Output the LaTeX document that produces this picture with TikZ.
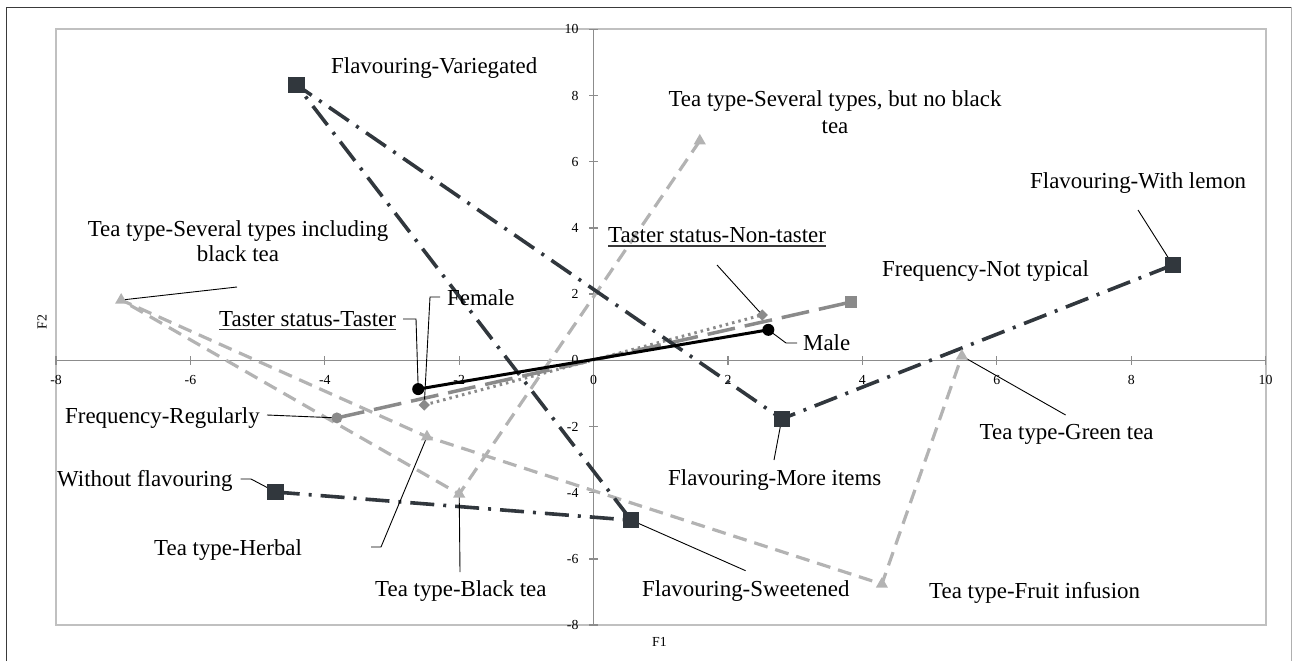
\documentclass[tikz,border=0pt]{standalone}
\usepackage{fontspec}
\setmainfont{Liberation Serif}
\usetikzlibrary{shapes.geometric}
\definecolor{flav}{HTML}{31373D}
\definecolor{teac}{HTML}{B3B3B3}
\definecolor{freqc}{HTML}{8A8A8A}
\definecolor{axisc}{HTML}{8C8C8C}
\definecolor{framec}{HTML}{C0C0C0}
\definecolor{outerc}{HTML}{3A3A3A}
\definecolor{outerr}{HTML}{B0B0B0}
\begin{document}
\begin{tikzpicture}[x=1pt,y=-1pt,
  lbl/.style={font=\fontsize{22.9}{27}\selectfont, inner sep=0pt, anchor=base west},
  lblc/.style={font=\fontsize{22.9}{27}\selectfont, inner sep=0pt, anchor=base},
  ticklbl/.style={font=\fontsize{13.8}{16}\selectfont, inner sep=0pt},
  leader/.style={draw=black, line width=0.9pt},
  ulline/.style={draw=outerc, line width=1.4pt},
  flavline/.style={draw=flav, line width=3.6pt, dash pattern=on 24pt off 9pt on 3pt off 9pt},
  tealine/.style={draw=teac, line width=3.2pt, dash pattern=on 14pt off 8pt},
  freqline/.style={draw=freqc, line width=3.5pt, dash pattern=on 28pt off 10pt},
  tastline/.style={draw=freqc, line width=3pt, dash pattern=on 2.5pt off 4pt},
  gendline/.style={draw=black, line width=3pt},
  sqmark/.style={rectangle, fill=flav, minimum size=16.5pt, inner sep=0pt},
  trimark/.style={regular polygon, regular polygon sides=3, fill=teac, minimum size=14pt, inner sep=0pt},
  freqcirc/.style={circle, fill=freqc, minimum size=11pt, inner sep=0pt},
  freqsq/.style={rectangle, fill=freqc, minimum size=12pt, inner sep=0pt},
  diamark/.style={diamond, aspect=1, fill=freqc, minimum width=11.5pt, minimum height=11.5pt, inner sep=0pt},
  gendmark/.style={circle, fill=black, minimum size=12pt, inner sep=0pt},
  frameln/.style={draw=framec, line width=2pt},
  axisln/.style={draw=axisc, line width=1.3pt}
]
\useasboundingbox (0,0) rectangle (1292,661);
% outer border
\draw[line width=1.8pt, draw=outerc] (6.5,661) -- (6.5,7.5) -- (1292,7.5);
\draw[line width=1pt, draw=outerr] (1291.3,7.5) -- (1291.3,661);

\begin{scope}[shift={(593.6pt,-360.3pt)}, x=67.2pt, y=33.1pt]
  % frame and axes
  \draw[frameln] (-8,-8) rectangle (10,10);
  \draw[axisln] (-8,0) -- (10,0);
  \draw[axisln] (0,-8) -- (0,10);
  \foreach \v in {-8,-6,...,10} {
    \draw[axisln] ([yshift=-4.5pt]\v,0) -- ([yshift=4.5pt]\v,0);
    \node[ticklbl, anchor=base] (xl\v) at ([yshift=-23.7pt]\v,0) {\v};
    \draw[axisln] ([xshift=-4.5pt]0,\v) -- ([xshift=4.5pt]0,\v);
    \node[ticklbl, anchor=east] (yl\v) at ([xshift=-15pt]0,\v) {\v};
  }
  % data points
  \coordinate (fVar) at (-4.42,8.32);
  \coordinate (fLemon) at (8.62,2.88);
  \coordinate (fMore) at (2.80,-1.77);
  \coordinate (fSweet) at (0.56,-4.83);
  \coordinate (fWithout) at (-4.73,-3.98);
  \coordinate (tIncl) at (-7.03,1.82);
  \coordinate (tBlack) at (-2.00,-4.04);
  \coordinate (tHerbal) at (-2.48,-2.31);
  \coordinate (tNoBlack) at (1.58,6.63);
  \coordinate (tGreen) at (5.48,0.13);
  \coordinate (tFruit) at (4.29,-6.76);
  \coordinate (qReg) at (-3.82,-1.74);
  \coordinate (qNot) at (3.83,1.76);
  \coordinate (sTaster) at (-2.52,-1.35);
  \coordinate (sNon) at (2.51,1.37);
  \coordinate (gFemale) at (-2.61,-0.87);
  \coordinate (gMale) at (2.60,0.92);
  % series lines
  \draw[tealine] (tNoBlack) -- (tBlack) -- (tIncl) -- (tHerbal) -- (tFruit) -- (tGreen);
  \draw[freqline] (qReg) -- (qNot);
  \draw[tastline] (sTaster) -- (sNon);
  \draw[flavline] (fWithout) -- (fSweet) -- (fVar) -- (fMore) -- (fLemon);
  \draw[gendline] (gFemale) -- (gMale);
\end{scope}

% labels
\node[lbl] (lVar) at (331,74) {Flavouring-Variegated};
\node[lblc] (lNoBlackA) at (835,106.7) {Tea type-Several types, but no black};
\node[lblc] (lNoBlackB) at (835,133.3) {tea};
\node[lbl] (lLemon) at (1030,188.3) {Flavouring-With lemon};
\node[lblc] (lInclA) at (238,236) {Tea type-Several types including};
\node[lblc] (lInclB) at (238,261.7) {black tea};
\node[lbl] (lNon) at (608,242.7) {Taster status-Non-taster};
\node[lbl] (lNot) at (882,276.7) {Frequency-Not typical};
\node[lbl] (lFemale) at (447,305) {Female};
\node[lbl] (lTaster) at (219,326.7) {Taster status-Taster};
\node[lbl] (lMale) at (803,350.7) {Male};
\node[lbl] (lReg) at (65,423.3) {Frequency-Regularly};
\node[lbl] (lWithout) at (57,486.7) {Without flavouring};
\node[lbl] (lMore) at (668,485.7) {Flavouring-More items};
\node[lbl] (lGreen) at (979.5,439.3) {Tea type-Green tea};
\node[lbl] (lHerbal) at (154,555) {Tea type-Herbal};
\node[lbl] (lBlack) at (375,596.7) {Tea type-Black tea};
\node[lbl] (lSweet) at (642,596.7) {Flavouring-Sweetened};
\node[lbl] (lFruit) at (929,598.3) {Tea type-Fruit infusion};
\node[ticklbl, anchor=base] (ax1) at (659.5,646.7) {F1};
\node[ticklbl, rotate=90] (ax2) at (42,322) {F2};
% underlines
\draw[ulline] ([yshift=-2.8pt]lTaster.base west) -- ([yshift=-2.8pt]lTaster.base east);
\draw[ulline] ([yshift=-3.2pt]lNon.base west) -- ([yshift=-3.2pt]lNon.base east);

% leader lines
\coordinate (aIncl) at (237,287);
\coordinate (aLemon) at (1138,210);
\coordinate (aNon) at (717,265);
\coordinate (aMale1) at (797,343);
\coordinate (aMale2) at (786,343);
\coordinate (aTast1) at (403,319);
\coordinate (aTast2) at (416,319);
\coordinate (aFem1) at (440,297);
\coordinate (aFem2) at (430,297);
\coordinate (aReg) at (267,415);
\coordinate (aWith1) at (240.5,479);
\coordinate (aWith2) at (251,479);
\coordinate (aHerb1) at (371,547);
\coordinate (aHerb2) at (381,547);
\coordinate (aBlack) at (460,572);
\coordinate (aSweet) at (745.6,570.7);
\coordinate (aMore) at (774,460);
\coordinate (aGreen) at (1065.6,415);
\draw[leader] (aIncl) -- (tIncl);
\draw[leader] (aLemon) -- (fLemon);
\draw[leader] (aNon) -- (sNon);
\draw[leader] (aMale1) -- (aMale2) -- (gMale);
\draw[leader] (aTast1) -- (aTast2) -- (gFemale);
\draw[leader] (aFem1) -- (aFem2) -- (sTaster);
\draw[leader] (aReg) -- (qReg);
\draw[leader] (aWith1) -- (aWith2) -- (fWithout);
\draw[leader] (aHerb1) -- (aHerb2) -- (tHerbal);
\draw[leader] (aBlack) -- (tBlack);
\draw[leader] (aSweet) -- (fSweet);
\draw[leader] (aMore) -- (fMore);
\draw[leader] (aGreen) -- (tGreen);

% markers
\foreach \p in {tIncl,tBlack,tHerbal,tNoBlack,tGreen,tFruit}
  \node[trimark] (m\p) at (\p) {};
\node[freqcirc] (mqReg) at (qReg) {};
\node[freqsq] (mqNot) at (qNot) {};
\node[diamark] (msTaster) at (sTaster) {};
\node[diamark] (msNon) at (sNon) {};
\foreach \p in {fVar,fLemon,fMore,fSweet,fWithout}
  \node[sqmark] (m\p) at (\p) {};
\node[gendmark] (mgFemale) at (gFemale) {};
\node[gendmark] (mgMale) at (gMale) {};
\end{tikzpicture}
\end{document}
